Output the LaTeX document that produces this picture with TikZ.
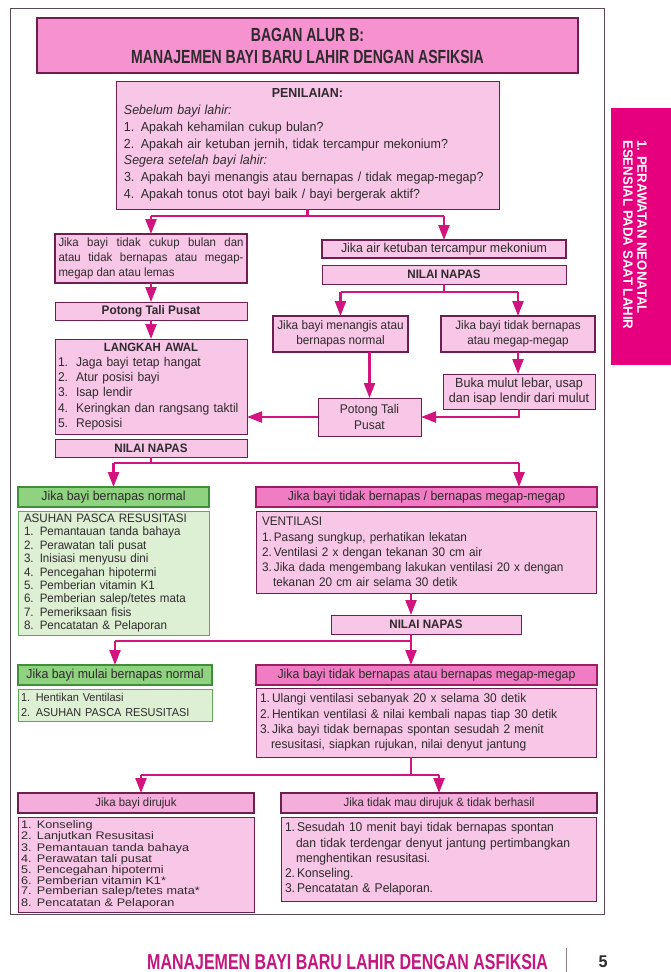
\documentclass[tikz,border=0pt]{standalone}
\usepackage{fontspec}
\setmainfont{Liberation Sans}[FakeStretch=0.95]
\newfontfamily\condf{Liberation Sans}[FakeStretch=0.74]
\newfontfamily\tabf{Liberation Sans}[FakeStretch=0.98]
\newfontfamily\widef{Liberation Sans}[FakeStretch=1.15]
\usetikzlibrary{arrows.meta,calc}
\definecolor{bord}{HTML}{6E1F52}
\definecolor{pinkl}{HTML}{F8C6E6}
\definecolor{titlep}{HTML}{F592CF}
\definecolor{headp}{HTML}{F07CC3}
\definecolor{headb}{HTML}{9B1D66}
\definecolor{midp}{HTML}{F5ADDC}
\definecolor{arrc}{HTML}{D2147E}
\definecolor{greenh}{HTML}{8FD27F}
\definecolor{greenb}{HTML}{3F8F3A}
\definecolor{greenl}{HTML}{DDF0D3}
\definecolor{greenlb}{HTML}{63A85A}
\definecolor{tabc}{HTML}{E6007E}
\definecolor{footc}{HTML}{C4167E}
\definecolor{framec}{HTML}{5A4A55}
\definecolor{txt}{HTML}{2E2A2D}
\newcommand\nm[1]{\makebox[16pt][l]{#1}}
\begin{document}
\begin{tikzpicture}[x=1pt,y=-1pt,
  bx/.style={anchor=north west, inner xsep=4pt, inner ysep=0pt, outer sep=0pt, fill=pinkl, draw=bord, line width=0.8pt, text=txt, font=\fontsize{12.5}{15}\selectfont},
  hb/.style={line width=1.8pt},
  ph/.style={fill=headp, draw=headb, line width=2pt, font=\fontsize{13}{15}\selectfont},
  gh/.style={fill=greenh, draw=greenb, line width=1.4pt, font=\fontsize{13}{15}\selectfont},
  gl/.style={fill=greenl, draw=greenlb, line width=1pt},
  bf/.style={font=\bfseries\fontsize{12.2}{15}\selectfont},
  ln/.style={draw=arrc, line width=2.3pt},
  arr/.style={draw=arrc, line width=2.3pt, -{Triangle[width=11pt,length=15pt]}}]
\useasboundingbox (0,0) rectangle (671,972);
\fill[white] (0,0) rectangle (671,972);
\draw[framec, line width=0.8pt] (10,8) rectangle (604,914);
% side tab
\fill[tabc] (611,108) rectangle (671,365);
\node[rotate=-90, anchor=north west, inner sep=0pt, align=left, text=white, font=\tabf\bfseries\fontsize{13.5}{14}\selectfont] (tabtext) at (647,140) {1. PERAWATAN NEONATAL\\ESENSIAL PADA SAAT LAHIR};
% title
\node[bx, fill=titlep, line width=1.1pt, minimum width=541pt, minimum height=55pt, align=center, font=\condf\bfseries\fontsize{19}{22}\selectfont] (title) at (37,18) {BAGAN ALUR B:\\MANAJEMEN BAYI BARU LAHIR DENGAN ASFIKSIA};
% assessment
\node[bx, minimum width=383pt, minimum height=128pt, text width=367pt, inner xsep=8pt, align=left, font=\fontsize{13.1}{16.8}\selectfont] (pen) at (116,81) {{\centering\bfseries PENILAIAN:\par}
\textit{Sebelum bayi lahir:}\\
1. Apakah kehamilan cukup bulan?\\
2. Apakah air ketuban jernih, tidak tercampur mekonium?\\
\textit{Segera setelah bayi lahir:}\\
3. Apakah bayi menangis atau bernapas / tidak megap-megap?\\
4. Apakah tonus otot bayi baik / bayi bergerak aktif?};
% left column
\node[bx, hb, minimum width=192pt, minimum height=49pt, text width=185pt, inner xsep=3.5pt, align=justify, font=\fontsize{12}{15}\selectfont] (cukup) at (55,234) {Jika bayi tidak cukup bulan dan\linebreak atau tidak bernapas atau megap-\linebreak megap dan atau lemas};
\node[bx, bf, font=\bfseries\fontsize{12.4}{15}\selectfont, minimum width=192pt, minimum height=18pt] (pot1) at (55,302) {Potong Tali Pusat};
\node[bx, minimum width=192pt, minimum height=95pt, text width=186pt, inner xsep=3pt, align=left, font=\fontsize{12.7}{15.2}\selectfont] (lang) at (55,339) {{\centering\bfseries\fontsize{12}{15}\selectfont LANGKAH AWAL\par}
\nm{1.}\,Jaga bayi tetap hangat\\
\nm{2.}\,Atur posisi bayi\\
\nm{3.}\,Isap lendir\\
\nm{4.}\,Keringkan dan rangsang taktil\\
\nm{5.}\,Reposisi};
\node[bx, bf, minimum width=192pt, minimum height=18pt] (nn2) at (55,439) {NILAI NAPAS};
% right column top
\node[bx, hb, minimum width=244pt, minimum height=18pt, font=\fontsize{13}{15}\selectfont] (mek) at (322,240) {Jika air ketuban tercampur mekonium};
\node[bx, bf, minimum width=244pt, minimum height=19pt] (nn1) at (322,265) {NILAI NAPAS};
\node[bx, hb, minimum width=135pt, minimum height=36pt, align=center, font=\fontsize{12.4}{14.5}\selectfont] (nang) at (273,316) {Jika bayi menangis atau\\bernapas normal};
\node[bx, hb, minimum width=154pt, minimum height=36pt, align=center, font=\fontsize{12.3}{14.5}\selectfont] (tid1) at (441,316) {Jika bayi tidak bernapas\\atau megap-megap};
\node[bx, minimum width=152pt, minimum height=35pt, align=center, font=\fontsize{13.2}{15.5}\selectfont] (buka) at (443,374) {Buka mulut lebar, usap\\dan isap lendir dari mulut};
\node[bx, minimum width=103pt, minimum height=38pt, align=center, font=\fontsize{12.6}{15.5}\selectfont] (pot2) at (318,398) {Potong Tali\\Pusat};
% middle row
\node[bx, gh, minimum width=191pt, minimum height=20pt] (gh1) at (18,487) {Jika bayi bernapas normal};
\node[bx, gl, minimum width=191pt, minimum height=124pt, text width=179pt, inner xsep=6pt, align=left, font=\fontsize{12.2}{13.4}\selectfont] (gb1) at (18,511) {ASUHAN PASCA RESUSITASI\\
1. Pemantauan tanda bahaya\\
2. Perawatan tali pusat\\
3. Inisiasi menyusu dini\\
4. Pencegahan hipotermi\\
5. Pemberian vitamin K1\\
6. Pemberian salep/tetes mata\\
7. Pemeriksaan fisis\\
8. Pencatatan \& Pelaporan};
\node[bx, ph, minimum width=341pt, minimum height=20pt] (ph1) at (256,487) {Jika bayi tidak bernapas / bernapas megap-megap};
\node[bx, minimum width=340pt, minimum height=82pt, text width=328pt, inner xsep=6pt, align=left, font=\fontsize{12.4}{15.2}\selectfont] (vent) at (256,511) {VENTILASI\\
1.\,Pasang sungkup, perhatikan lekatan\\
2.\,Ventilasi 2 x dengan tekanan 30 cm air\\
3.\,Jika dada mengembang lakukan ventilasi 20 x dengan\\
\hspace*{11pt}tekanan 20 cm air selama 30 detik};
\node[bx, bf, minimum width=190pt, minimum height=19pt] (nn3) at (331,615) {NILAI NAPAS};
% lower row
\node[bx, gh, minimum width=194pt, minimum height=20pt] (gh2) at (18,665) {Jika bayi mulai bernapas normal};
\node[bx, gl, minimum width=194pt, minimum height=32pt, text width=188pt, inner xsep=3pt, align=left, font=\fontsize{11.5}{14.5}\selectfont] (gb2) at (18,689) {1. Hentikan Ventilasi\\2. ASUHAN PASCA RESUSITASI};
\node[bx, ph, minimum width=341pt, minimum height=20pt] (ph2) at (256,665) {Jika bayi tidak bernapas atau bernapas megap-megap};
\node[bx, minimum width=340pt, minimum height=69pt, text width=332pt, inner xsep=4pt, align=left, font=\fontsize{12.6}{15.2}\selectfont] (pb2) at (256,688) {1.\,Ulangi ventilasi sebanyak 20 x selama 30 detik\\
2.\,Hentikan ventilasi \& nilai kembali napas tiap 30 detik\\
3.\,Jika bayi tidak bernapas spontan sesudah 2 menit\\
\hspace*{11pt}resusitasi, siapkan rujukan, nilai denyut jantung};
% bottom row
\node[bx, hb, fill=midp, minimum width=236pt, minimum height=20pt, font=\fontsize{12}{15}\selectfont] (hr) at (18,793) {Jika bayi dirujuk};
\node[bx, hb, fill=midp, minimum width=316pt, minimum height=20pt, font=\fontsize{12}{15}\selectfont] (ht) at (281,793) {Jika tidak mau dirujuk \& tidak berhasil};
\node[bx, minimum width=236pt, minimum height=95pt, text width=230pt, inner xsep=3pt, align=left, font=\widef\fontsize{11}{9.9}\selectfont] (lr) at (18,817) {\nm{1.}Konseling\\
\nm{2.}Lanjutkan Resusitasi\\
\nm{3.}Pemantauan tanda bahaya\\
\nm{4.}Perawatan tali pusat\\
\nm{5.}Pencegahan hipotermi\\
\nm{6.}Pemberian vitamin K1*\\
\nm{7.}Pemberian salep/tetes mata*\\
\nm{8.}Pencatatan \& Pelaporan};
\node[bx, minimum width=315pt, minimum height=84pt, text width=307pt, inner xsep=4pt, align=left, font=\fontsize{12.7}{15.2}\selectfont] (lt) at (281,817) {1.\,Sesudah 10 menit bayi tidak bernapas spontan\\
\hspace*{11pt}dan tidak terdengar denyut jantung pertimbangkan\\
\hspace*{11pt}menghentikan resusitasi.\\
2.\,Konseling.\\
3.\,Pencatatan \& Pelaporan.};
% connectors
\coordinate (j1) at (307.5,216);
\draw[ln] (pen.south) -- (j1);
\draw[ln] (cukup.north |- j1) -- (mek.north |- j1);
\draw[arr] (cukup.north |- j1) -- (cukup.north);
\draw[arr] (mek.north |- j1) -- (mek.north);
\draw[arr] (cukup) -- (pot1);
\draw[arr] (pot1) -- (lang);
\coordinate (j2) at (444,292);
\draw[ln] (nn1.south) -- (j2);
\draw[ln] (nang.north |- j2) -- (tid1.north |- j2);
\draw[arr] (nang.north |- j2) -- (nang.north);
\draw[arr] (tid1.north |- j2) -- (tid1.north);
\draw[arr] (tid1.south) -- (tid1.south |- buka.north);
\draw[arr] (nang.south -| pot2.north) -- (pot2.north);
\draw[arr] (buka.south) |- (pot2.east);
\draw[arr] (pot2.west) -- (pot2.west -| lang.east);
\coordinate (j3) at (151,463);
\coordinate (t3) at (519,463);
\draw[ln] (nn2.south) -- (j3);
\draw[ln] (j3 -| gh1.north) -- (t3);
\draw[arr] (j3 -| gh1.north) -- (gh1.north);
\draw[arr] (t3) -- (t3 |- ph1.north);
\coordinate (c3) at (411,641);
\draw[arr] (c3 |- vent.south) -- (c3 |- nn3.north);
\draw[ln] (c3 |- nn3.south) -- (c3);
\draw[ln] (c3) -- (c3 -| gh2.north);
\draw[arr] (c3 -| gh2.north) -- (gh2.north);
\draw[arr] (c3) -- (c3 |- ph2.north);
\coordinate (c4) at (411,775);
\coordinate (c5) at (141,775);
\coordinate (c6) at (439,775);
\draw[ln] (c4 |- pb2.south) -- (c4);
\draw[ln] (c5) -- (c6);
\draw[arr] (c5) -- (c5 |- hr.north);
\draw[arr] (c6) -- (c6 |- ht.north);
% footer
\node[anchor=west, inner sep=0pt, text=footc, font=\condf\bfseries\fontsize{21.6}{22}\selectfont] (foot) at (147,962) {MANAJEMEN BAYI BARU LAHIR DENGAN ASFIKSIA};
\draw[framec!70, line width=1pt] (566,948) -- (566,975);
\node[inner sep=0pt, text=txt, font=\bfseries\fontsize{17}{17}\selectfont] (pg) at (603,962) {5};
\end{tikzpicture}
\end{document}
